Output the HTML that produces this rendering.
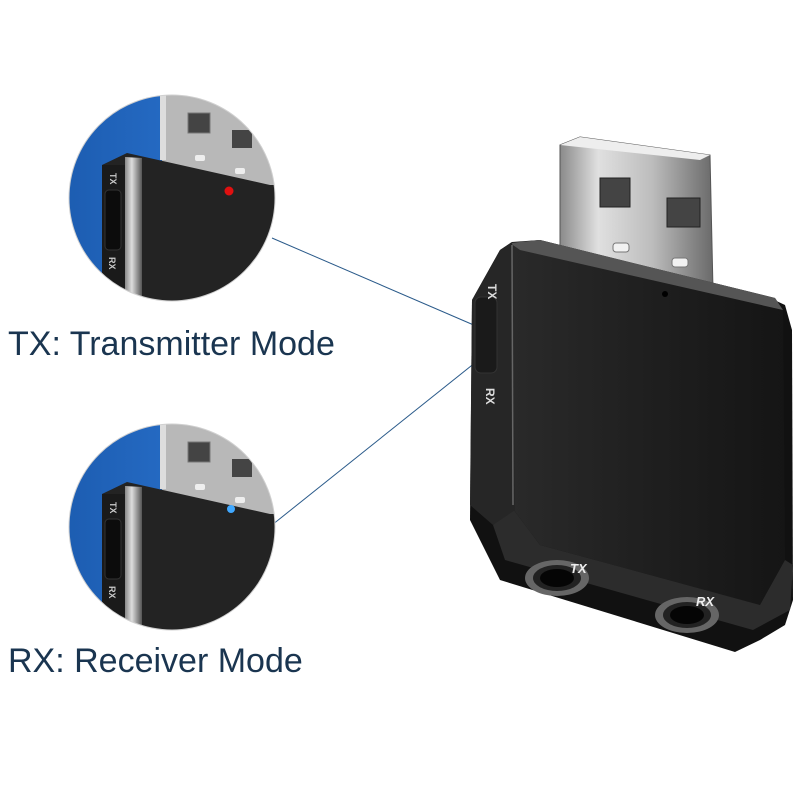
<!DOCTYPE html>
<html><head><meta charset="utf-8"><style>
html,body{margin:0;padding:0;background:#fff;}
svg{display:block}
text{font-family:"Liberation Sans",sans-serif}
</style></head><body>
<svg width="800" height="800" viewBox="0 0 800 800" xmlns="http://www.w3.org/2000/svg">
<defs>
<linearGradient id="usb" x1="0" y1="0" x2="1" y2="0">
<stop offset="0" stop-color="#8a8a8a"/><stop offset="0.25" stop-color="#e0e0e0"/><stop offset="0.6" stop-color="#bdbdbd"/><stop offset="1" stop-color="#6a6a6a"/></linearGradient>
<linearGradient id="body" x1="0" y1="0" x2="1" y2="0">
<stop offset="0" stop-color="#2a2a2a"/><stop offset="0.5" stop-color="#1f1f1f"/><stop offset="1" stop-color="#151515"/></linearGradient>
<linearGradient id="blue" x1="0" y1="0" x2="1" y2="0">
<stop offset="0" stop-color="#1c5cb0"/><stop offset="1" stop-color="#2f7ad8"/></linearGradient>
<linearGradient id="edge" x1="0" y1="0" x2="1" y2="0">
<stop offset="0" stop-color="#888"/><stop offset="0.4" stop-color="#ddd"/><stop offset="1" stop-color="#555"/></linearGradient>
<clipPath id="c1"><circle cx="172" cy="198" r="103"/></clipPath>
<g id="zoomc">
<rect x="60" y="90" width="230" height="220" fill="url(#blue)"/>
<rect x="162" y="90" width="120" height="100" fill="#b8b8b8"/>
<rect x="160" y="90" width="6" height="70" fill="#ddd"/>
<rect x="188" y="113" width="22" height="20" fill="#444" stroke="#777"/>
<rect x="232" y="130" width="20" height="18" fill="#444"/>
<rect x="195" y="155" width="10" height="6" rx="2" fill="#eee"/>
<rect x="235" y="168" width="10" height="6" rx="2" fill="#eee"/>
<path d="M127 153 L270 185 L290 185 L290 310 L102 310 L102 165 Z" fill="#232323"/>
<rect x="102" y="165" width="24" height="145" fill="#1a1a1a"/>
<path d="M125 157 L142 158 L142 310 L125 310 Z" fill="url(#edge)"/>
<rect x="105" y="190" width="16" height="60" rx="4" fill="#0c0c0c" stroke="#333"/>
<text x="105" y="178" font-size="9" fill="#ccc" font-weight="bold" transform="rotate(90 110 178)">TX</text>
<text x="104" y="262" font-size="9" fill="#ccc" font-weight="bold" transform="rotate(90 109 262)">RX</text>
</g>
</defs>

<line x1="272" y1="238" x2="476" y2="326" stroke="#2a5a8a" stroke-width="1"/>
<line x1="272" y1="525" x2="476" y2="362" stroke="#2a5a8a" stroke-width="1"/>

<g clip-path="url(#c1)">
<use href="#zoomc"/>
<circle cx="229" cy="191" r="4.5" fill="#e01010"/>
</g>
<circle cx="172" cy="198" r="103" fill="none" stroke="#d0d0d0" stroke-width="1"/>
<text x="8" y="355" font-size="34" fill="#1a3550">TX: Transmitter Mode</text>

<g transform="translate(0,329)">
<g clip-path="url(#c1)">
<use href="#zoomc"/>
<circle cx="231" cy="180" r="4" fill="#40a8ff"/>
</g>
<circle cx="172" cy="198" r="103" fill="none" stroke="#d0d0d0" stroke-width="1"/>
</g>
<text x="8" y="672" font-size="34" fill="#1a3550">RX: Receiver Mode</text>

<!-- USB plug -->
<path d="M560 145 L580 137 L710 155 L713 290 L560 250 Z" fill="url(#usb)" stroke="#555"/>
<path d="M560 145 L580 137 L710 155 L700 160 Z" fill="#eee"/>
<rect x="600" y="178" width="30" height="29" fill="#444" stroke="#222"/>
<rect x="667" y="198" width="33" height="29" fill="#444" stroke="#222"/>
<rect x="613" y="243" width="16" height="9" rx="3" fill="#f2f2f2" stroke="#777"/>
<rect x="672" y="258" width="16" height="9" rx="3" fill="#f2f2f2" stroke="#777"/>

<!-- body -->
<path d="M472 300 L500 250 L512 242 L540 240 L770 298 L785 305 L792 330 L793 600 L785 625 L760 640 L735 652 L500 580 L490 560 L470 520 Z" fill="#111"/>
<path d="M510 243 L540 240 L775 298 L783 310 L785 560 L760 605 L540 545 L510 505 Z" fill="url(#body)"/>
<path d="M510 243 L540 240 L775 298 L783 310 L520 250 Z" fill="#555"/>
<path d="M510 505 L540 545 L760 605 L785 560 L793 565 L790 610 L753 630 L505 560 L493 525 Z" fill="#2c2c2c"/>
<path d="M472 300 L500 250 L512 242 L515 510 L493 525 L470 505 Z" fill="#262626"/>
<line x1="512" y1="245" x2="513" y2="505" stroke="#666" stroke-width="1.5"/>
<rect x="475" y="297" width="22" height="76" rx="6" fill="#1a1a1a" stroke="#333"/>
<text x="480" y="288" font-size="12" fill="#ddd" font-weight="bold" transform="rotate(90 486 290)">TX</text>
<text x="478" y="392" font-size="12" fill="#ddd" font-weight="bold" transform="rotate(90 484 394)">RX</text>
<circle cx="665" cy="294" r="3" fill="#000"/>
<ellipse cx="557" cy="578" rx="32" ry="18" fill="#666"/>
<ellipse cx="557" cy="578" rx="24" ry="13" fill="#222"/>
<ellipse cx="557" cy="578" rx="17" ry="9" fill="#050505"/>
<ellipse cx="687" cy="615" rx="32" ry="18" fill="#666"/>
<ellipse cx="687" cy="615" rx="24" ry="13" fill="#222"/>
<ellipse cx="687" cy="615" rx="17" ry="9" fill="#050505"/>
<text x="570" y="573" font-size="13" fill="#eee" font-weight="bold" font-style="italic">TX</text>
<text x="696" y="606" font-size="13" fill="#eee" font-weight="bold" font-style="italic">RX</text>
</svg>
</body></html>
